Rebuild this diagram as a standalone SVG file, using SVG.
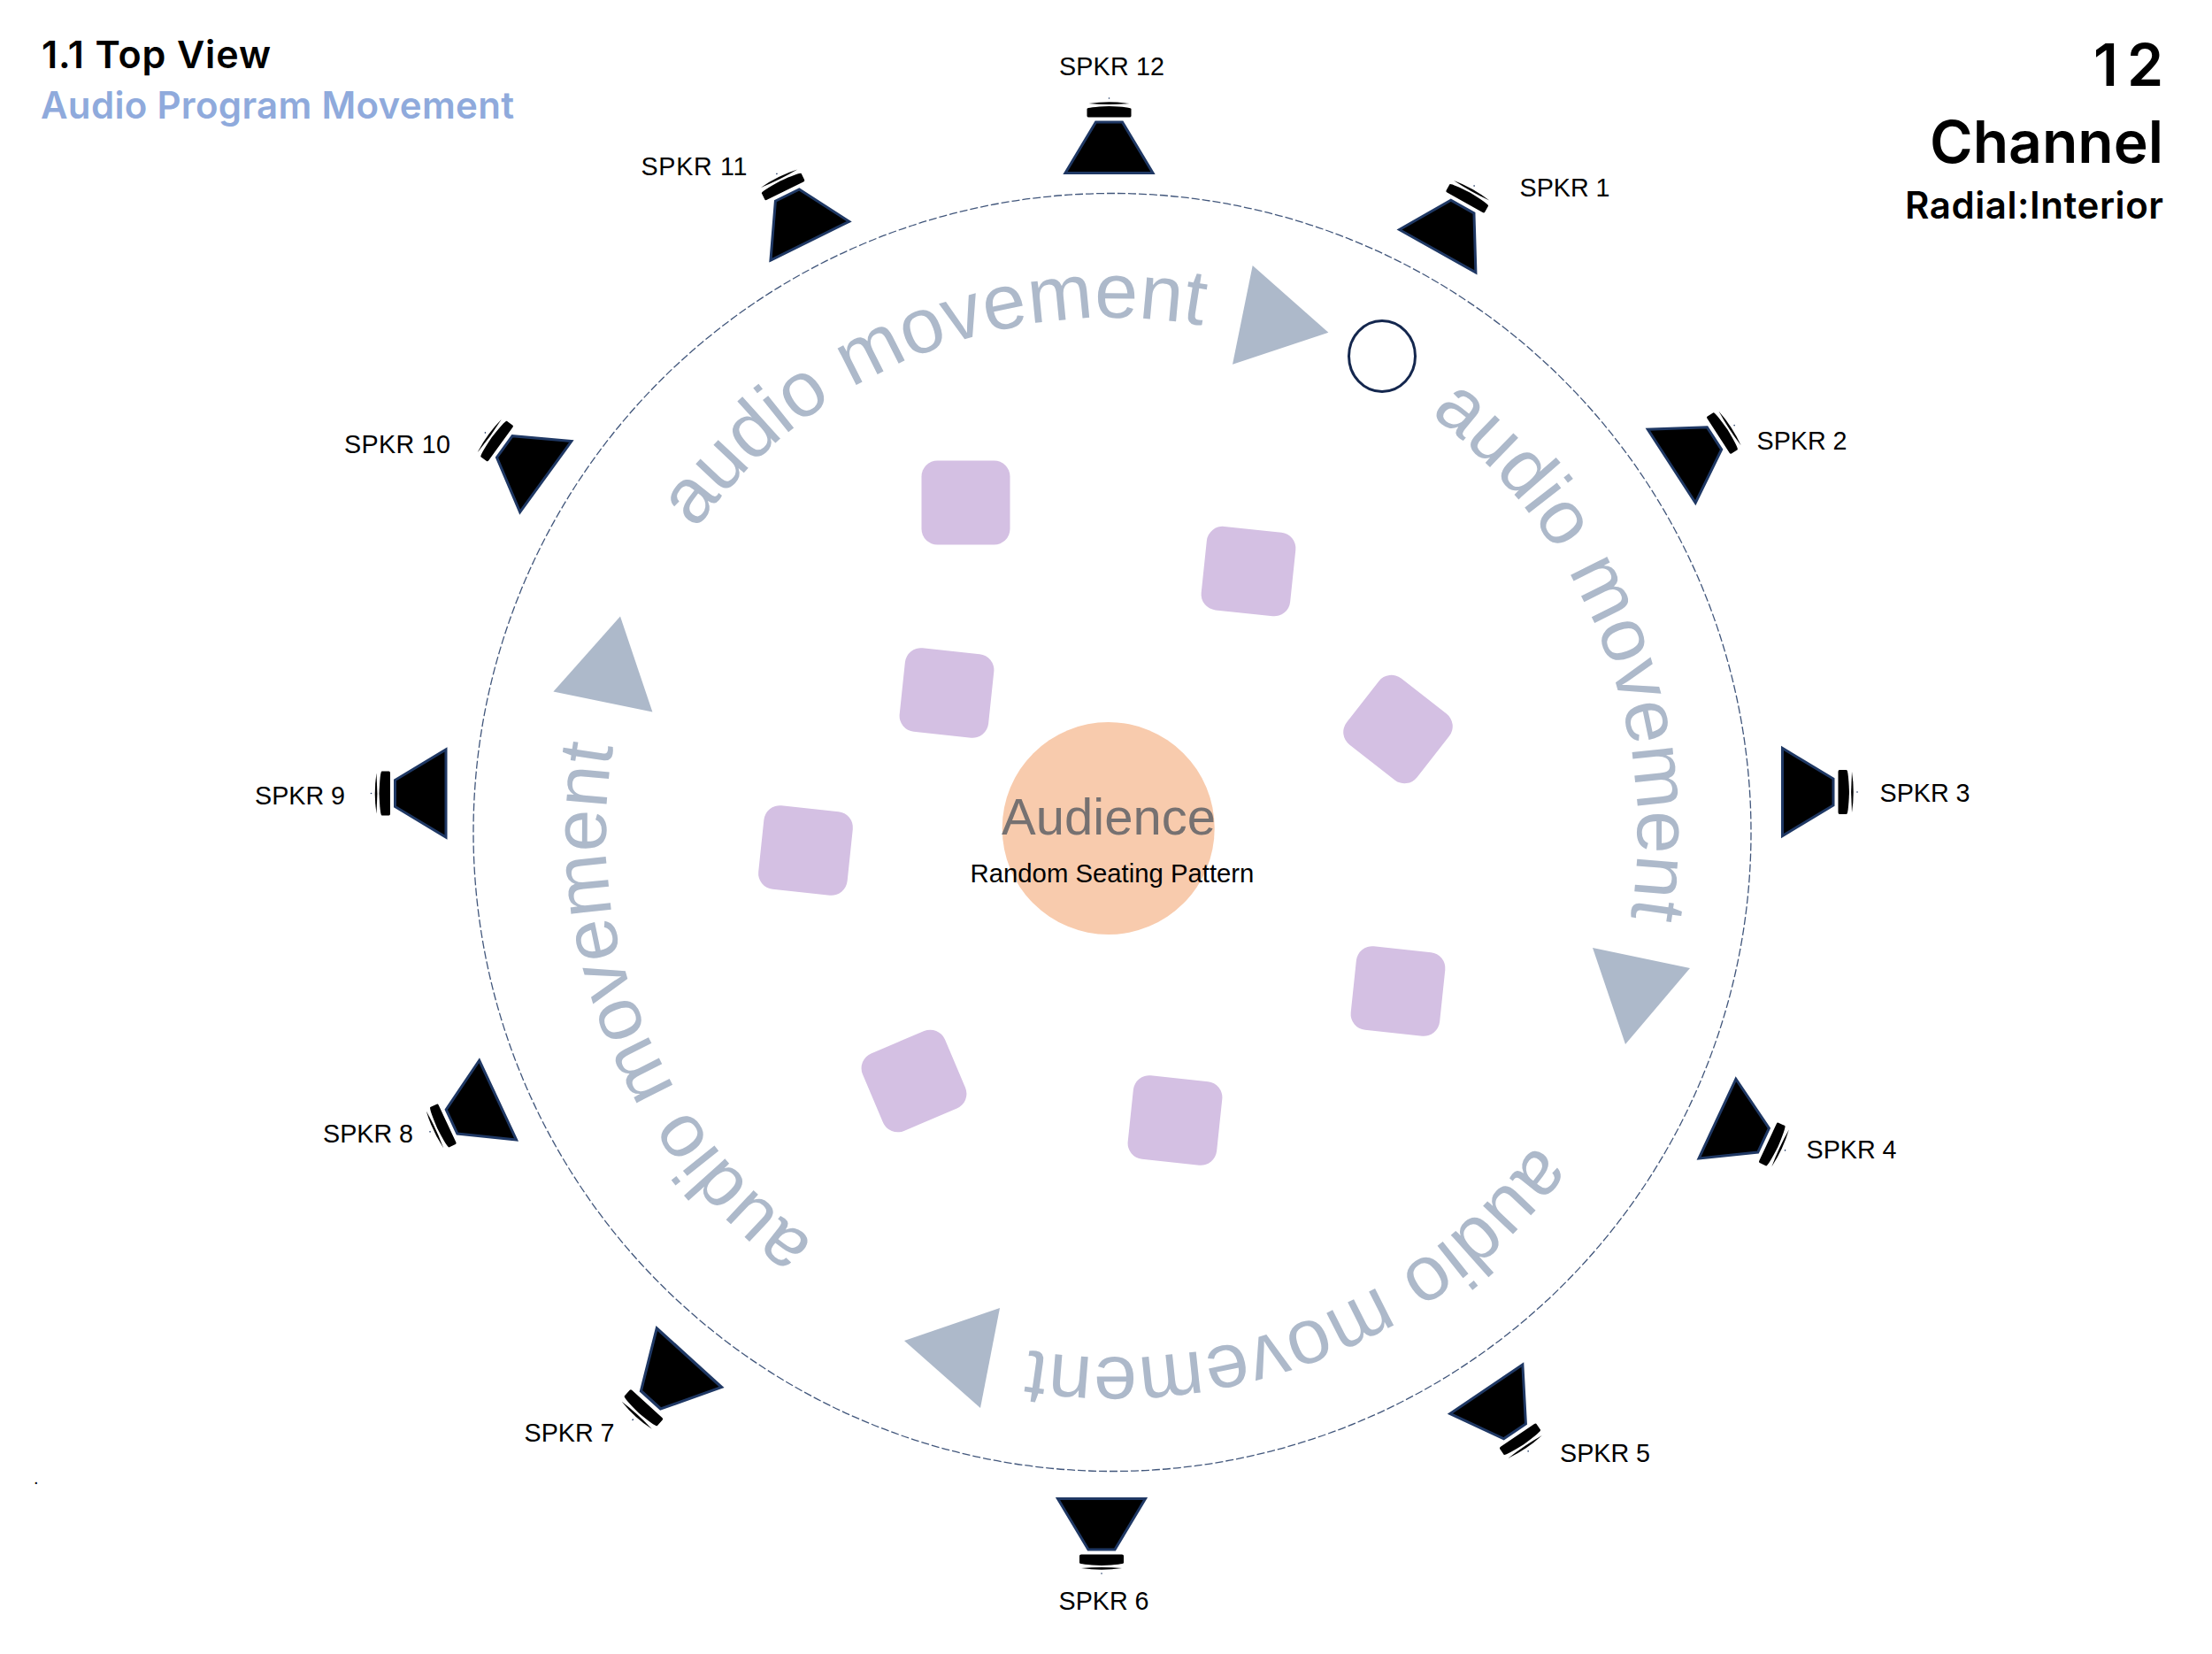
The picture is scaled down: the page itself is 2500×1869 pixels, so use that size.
<svg xmlns="http://www.w3.org/2000/svg" xmlns:xlink="http://www.w3.org/1999/xlink" width="2500" height="1869" viewBox="0 0 2500 1869">
<style>
text{font-family:"Liberation Sans",Arial,sans-serif}
.lbl{font-size:28.7px;fill:#000}
.head{font-family:Inter,"Liberation Sans",sans-serif;font-weight:600;fill:#000}
.arc{font-size:88px;fill:#adb9ca}
.seat{fill:#d4c0e3}
.tri{fill:#adb9ca}
</style>
<defs>
<g id="speaker">
<polygon points="-49.5,-1.5 49.5,-1.5 15,-59 -15,-59" fill="#000" stroke="#1f3864" stroke-width="3"/>
<path d="M-25,-66Q-25,-64.5 -23,-64.5L23,-64.5Q25,-64.5 25,-66L25,-74Q25,-76 0,-77Q-25,-76 -25,-74Z" fill="#000"/>
<path d="M-23,-80Q0,-83.5 23,-80Q0,-78.2 -23,-80Z" fill="#000"/>
<circle cx="0" cy="-86" r="0.8" fill="#1f3864"/>
</g>
<path id="a1" d="M786.2 598.8A582 582 0 0 1 1456 394"/>
<path id="a2" d="M1616 468A594 594 0 0 1 1815 1144"/>
<path id="a3" d="M1736 1293A593 593 0 0 1 1056 1498"/>
<path id="a4" d="M920 1403A572 572 0 0 1 719 746"/>
</defs>
<rect width="2500" height="1869" fill="#fff"/>
<g id="titles">
<text class="head" x="47" y="77" font-size="43" textLength="259" lengthAdjust="spacing">1.1 Top View</text>
<text class="head" x="46" y="134" font-size="42" textLength="535" lengthAdjust="spacing" style="fill:#8faadc">Audio Program Movement</text>
<text class="head" x="2366" y="97" font-size="66" textLength="79" lengthAdjust="spacing">12</text>
<text class="head" x="2445" y="184" font-size="66" text-anchor="end">Channel</text>
<text class="head" x="2153" y="247" font-size="42" textLength="292" lengthAdjust="spacing">Radial:Interior</text>
<text x="38" y="1677" font-size="20" fill="#000">.</text>
</g>
<g id="connectors">
<circle cx="1257" cy="940.5" r="722" fill="none" stroke="#203864" stroke-width="1.3" stroke-dasharray="9 3" opacity="0.85"/>
</g>
<g id="audience">
<circle cx="1252.7" cy="936" r="120" fill="#f8cbad"/>
<text x="1253" y="943" font-size="58" text-anchor="middle" fill="#767171">Audience</text>
<text x="1257" y="997" font-size="29.3" text-anchor="middle" fill="#000">Random Seating Pattern</text>
</g>
<g id="seats">
<rect id="seat-1" class="seat" x="-50" y="-47.5" width="100" height="95" rx="18" transform="translate(1091.500 568)"/>
<rect id="seat-2" class="seat" x="-50.5" y="-47.5" width="101" height="95" rx="18" transform="translate(1411 645.6) rotate(6)"/>
<rect id="seat-3" class="seat" x="-50.5" y="-47.5" width="101" height="95" rx="18" transform="translate(1070 783) rotate(6)"/>
<rect id="seat-4" class="seat" x="-50.5" y="-47.5" width="101" height="95" rx="18" transform="translate(1580 824) rotate(38)"/>
<rect id="seat-5" class="seat" x="-50.5" y="-47.5" width="101" height="95" rx="18" transform="translate(910.500 961) rotate(6)"/>
<rect id="seat-6" class="seat" x="-50.5" y="-47.5" width="101" height="95" rx="18" transform="translate(1580 1120) rotate(6)"/>
<rect id="seat-7" class="seat" x="-50.5" y="-47.5" width="101" height="95" rx="18" transform="translate(1033 1221.500) rotate(-23)"/>
<rect id="seat-8" class="seat" x="-50.5" y="-47.5" width="101" height="95" rx="18" transform="translate(1328 1266) rotate(6)"/>
</g>
<g id="movement">
<polygon class="tri" points="1415.7,300 1501.4,375.7 1393,411.7"/>
<polygon class="tri" points="1800,1071 1910,1094 1837,1180"/>
<polygon class="tri" points="1130,1478 1108,1591 1022,1515"/>
<polygon class="tri" points="701,696.4 737.4,804.6 625.4,781.6"/>
<text class="arc"><textPath href="#a1">audio movement</textPath></text>
<text class="arc" style="font-size:87px"><textPath href="#a2">audio movement</textPath></text>
<text class="arc"><textPath href="#a3">audio movement</textPath></text>
<text class="arc" style="font-size:86px"><textPath href="#a4">audio movement</textPath></text>
</g>
<g id="source-marker">
<ellipse cx="1562" cy="402.5" rx="37.5" ry="40" fill="#fff" stroke="#14274e" stroke-width="3"/>
</g>
<g id="spkr-1"><use href="#speaker" transform="translate(1624 285) rotate(29.3)"/><text class="lbl" x="1717.500" y="222">SPKR 1</text></g>
<g id="spkr-2"><use href="#speaker" transform="translate(1888 527.5) rotate(57)"/><text class="lbl" x="1985.500" y="508">SPKR 2</text></g>
<g id="spkr-3"><use href="#speaker" transform="translate(2013 895) rotate(90)"/><text class="lbl" x="2124.500" y="906">SPKR 3</text></g>
<g id="spkr-4"><use href="#speaker" transform="translate(1939.6 1263.5) rotate(115)"/><text class="lbl" x="2041.500" y="1309">SPKR 4</text></g>
<g id="spkr-5"><use href="#speaker" transform="translate(1679 1568.5) rotate(146)"/><text class="lbl" x="1763" y="1652">SPKR 5</text></g>
<g id="spkr-6"><use href="#speaker" transform="translate(1245 1692) rotate(180)"/><text class="lbl" x="1196.500" y="1819">SPKR 6</text></g>
<g id="spkr-7"><use href="#speaker" transform="translate(780 1533) rotate(222.3) scale(1 1.12)"/><text class="lbl" x="592.500" y="1629">SPKR 7</text></g>
<g id="spkr-8"><use href="#speaker" transform="translate(564 1242.5) rotate(245)"/><text class="lbl" x="365" y="1291">SPKR 8</text></g>
<g id="spkr-9"><use href="#speaker" transform="translate(505.5 896.5) rotate(270)"/><text class="lbl" x="288" y="909">SPKR 9</text></g>
<g id="spkr-10"><use href="#speaker" transform="translate(618 539.5) rotate(306)"/><text class="lbl" x="389" y="512" textLength="120" lengthAdjust="spacing">SPKR 10</text></g>
<g id="spkr-11"><use href="#speaker" transform="translate(916 273.5) rotate(333.7)"/><text class="lbl" x="724.5" y="197.5" textLength="120" lengthAdjust="spacing">SPKR 11</text></g>
<g id="spkr-12"><use href="#speaker" transform="translate(1253.5 197)"/><text class="lbl" x="1197" y="85" textLength="119" lengthAdjust="spacing">SPKR 12</text></g>
</svg>
